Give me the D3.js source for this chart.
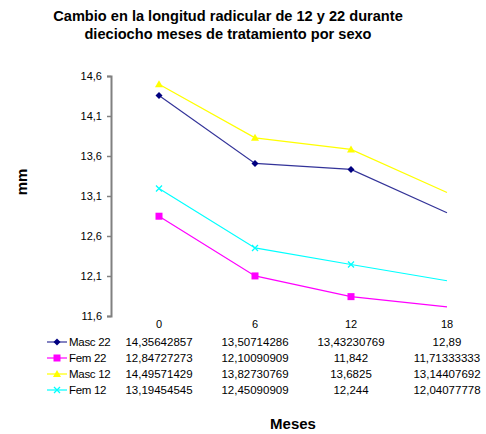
<!DOCTYPE html>
<html><head><meta charset="utf-8">
<script src="https://cdn.jsdelivr.net/npm/d3@7"></script>
<style>body{margin:0;background:#fff}svg{display:block;font-family:"Liberation Sans",Arial,sans-serif}</style>
</head><body><svg id="c" width="486" height="434"></svg>
<script>
const categories = ["0", "6", "12", "18"];
const seriesNames = ["Masc 22", "Fem 22", "Masc 12", "Fem 12"];
const masc22 = [14.35642857, 13.50714286, 13.43230769, 12.89];
const fem22 = [12.84727273, 12.10090909, 11.842, 11.71333333];
const masc12 = [14.49571429, 13.82730769, 13.6825, 13.14407692];
const fem12 = [13.19454545, 12.45090909, 12.244, 12.04077778];
const tableText = [
  ["14,35642857", "13,50714286", "13,43230769", "12,89"],
  ["12,84727273", "12,10090909", "11,842", "11,71333333"],
  ["14,49571429", "13,82730769", "13,6825", "13,14407692"],
  ["13,19454545", "12,45090909", "12,244", "12,04077778"]
];
const yTicks = [11.6, 12.1, 12.6, 13.1, 13.6, 14.1, 14.6];
const markerCount = 3; // last point drawn without marker in the reference

const series = [
  {name: seriesNames[0], values: masc22, line: "#333399", fill: "#000080", shape: "diamond"},
  {name: seriesNames[1], values: fem22, line: "#FF00FF", fill: "#FF00FF", shape: "square"},
  {name: seriesNames[2], values: masc12, line: "#FFFF00", fill: "#FFFF00", shape: "triangle"},
  {name: seriesNames[3], values: fem12, line: "#00FFFF", fill: "#00FFFF", shape: "x"}
];

const svg = d3.select("#c");
const x = d3.scaleBand().domain(categories).range([111, 495]);
const y = d3.scaleLinear().domain([11.6, 14.6]).range([316, 76]);
const cx = c => x(c) + x.bandwidth() / 2;

// title
const t = svg.append("text").attr("text-anchor", "middle").attr("font-weight", "bold").attr("font-size", 14.6).attr("fill", "#000");
t.append("tspan").attr("x", 228).attr("y", 21).text("Cambio en la longitud radicular de 12 y 22 durante");
t.append("tspan").attr("x", 228).attr("y", 39).text("dieciocho meses de tratamiento por sexo");

// y axis
const ya = svg.append("g").attr("transform", "translate(111,0)")
  .call(d3.axisLeft(y).tickValues(yTicks).tickSize(4).tickPadding(5).tickFormat(d => d3.format(".1f")(d).replace(".", ",")));
ya.select(".domain").attr("stroke", "#808080").attr("stroke-width", 2);
ya.selectAll(".tick line").attr("stroke", "#808080").attr("stroke-width", 1.5);
ya.selectAll(".tick text").attr("font-size", 11).attr("fill", "#000").attr("font-family", "Liberation Sans, Arial, sans-serif");

svg.append("text").attr("transform", "translate(27,182) rotate(-90)").attr("text-anchor", "middle")
  .attr("font-weight", "bold").attr("font-size", 15).text("mm");

// category labels
svg.append("g").selectAll("text").data(categories).join("text")
  .attr("x", d => cx(d)).attr("y", 328).attr("text-anchor", "middle").attr("font-size", 11).text(d => d);

function marker(g, shape, color, px, py) {
  if (shape === "diamond") g.append("path").attr("d", `M${px},${py-3.5}L${px+3.5},${py}L${px},${py+3.5}L${px-3.5},${py}Z`).attr("fill", color);
  else if (shape === "square") g.append("rect").attr("x", px-3.5).attr("y", py-3.5).attr("width", 7).attr("height", 7).attr("fill", color);
  else if (shape === "triangle") g.append("path").attr("d", `M${px},${py-4}L${px+4},${py+3}L${px-4},${py+3}Z`).attr("fill", color);
  else g.append("path").attr("d", `M${px-3},${py-3}L${px+3},${py+3}M${px+3},${py-3}L${px-3},${py+3}`).attr("stroke", color).attr("stroke-width", 1.3);
}

const line = d3.line().x((d, i) => cx(categories[i])).y(d => y(d));
const drawOrder = [3, 1, 0, 2];
drawOrder.forEach(si => {
  const s = series[si];
  const g = svg.append("g");
  g.append("path").attr("d", line(s.values)).attr("fill", "none").attr("stroke", s.line).attr("stroke-width", 1.2);
  s.values.slice(0, markerCount).forEach((v, i) => marker(g, s.shape, s.fill, cx(categories[i]), y(v)));
});

// data table
const rowY = [346, 362, 378, 394];
series.forEach((s, si) => {
  const g = svg.append("g");
  const ry = rowY[si] - 4;
  g.append("line").attr("x1", 47).attr("x2", 67).attr("y1", ry).attr("y2", ry).attr("stroke", s.line).attr("stroke-width", 1.2);
  marker(g, s.shape, s.fill, 57, ry);
  g.append("text").attr("x", 69).attr("y", rowY[si]).attr("font-size", 11.5).attr("letter-spacing", -0.3).text(s.name);
  categories.forEach((c, ci) => {
    g.append("text").attr("x", cx(c)).attr("y", rowY[si]).attr("text-anchor", "middle").attr("font-size", 11.5).text(tableText[si][ci]);
  });
});

svg.append("text").attr("x", 293).attr("y", 429).attr("text-anchor", "middle").attr("font-weight", "bold").attr("font-size", 15).text("Meses");
</script></body></html>
